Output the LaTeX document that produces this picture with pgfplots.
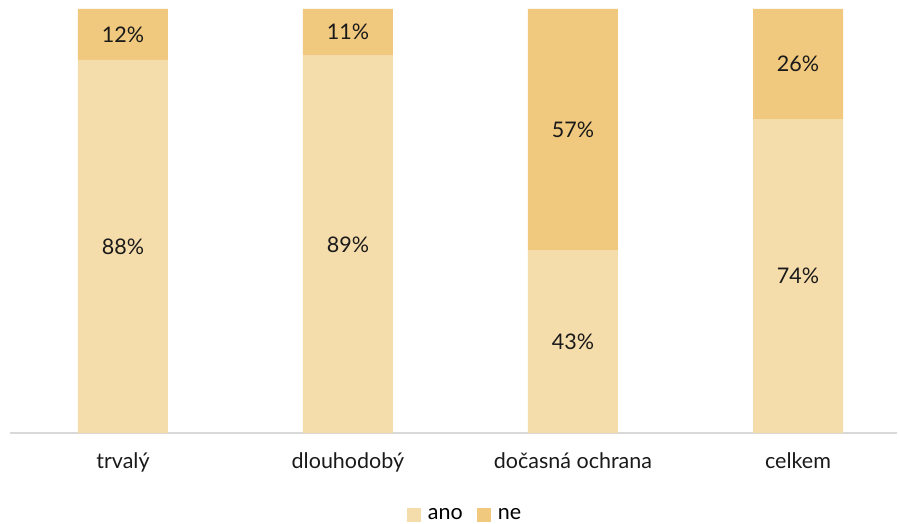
\documentclass[border=0pt]{standalone}
\usepackage{pgfplots}
\pgfplotsset{compat=1.18}
\usepackage{fontspec}
\setmainfont{Lato}
\definecolor{ano}{HTML}{F5DCAB}
\definecolor{ne}{HTML}{F0C97E}
\definecolor{osa}{HTML}{D9D9D9}
\definecolor{txt}{HTML}{1A1A1A}

\pgfplotsset{
  spolecne/.style={
    at={(10pt,91pt)}, anchor=south west,
    scale only axis, width=887pt, height=424pt,
    xmin=-0.502, xmax=3.44, ymin=0, ymax=100,
  },
}

\begin{document}
\begin{tikzpicture}
\useasboundingbox (0,0) rectangle (899pt,524pt);
\begin{axis}[
    spolecne,
    ybar stacked,
    bar width=90pt,
    axis x line*=bottom,
    axis y line=none,
    x axis line style={draw=osa, line width=1.5pt},
    xtick={0,1,2,3},
    xticklabels={trvalý, dlouhodobý, dočasná ochrana, celkem},
    major tick length=0pt,
    xticklabel style={font=\fontsize{21.5}{24}\selectfont, text=txt, yshift=-16pt},
    legend style={at={(0.513,-0.193)}, anchor=center, draw=none,
        legend columns=-1, font=\fontsize{21.5}{24}\selectfont,
        /tikz/every odd column/.append style={column sep=5pt},
        /tikz/every even column/.append style={column sep=12pt}},
    legend image code/.code={\fill[#1] (0pt,-7pt) rectangle (14pt,7pt);},
]
\addplot[fill=ano, draw=none] coordinates {(0,88) (1,89) (2,43) (3,74)};
\addlegendentry{ano}
\addplot[fill=ne, draw=none] coordinates {(0,12) (1,11) (2,57) (3,26)};
\addlegendentry{ne}
\end{axis}
\begin{axis}[
    spolecne,
    hide axis,
    nodes near coords,
    point meta=explicit symbolic,
    every node near coord/.append style={anchor=center, font=\fontsize{21.5}{24}\selectfont, text=txt},
]
\addplot[only marks, draw=none, mark=none] coordinates {
  (0,44) [88\%] (0,94) [12\%]
  (1,44.5) [89\%] (1,94.5) [11\%]
  (2,21.5) [43\%] (2,71.5) [57\%]
  (3,37) [74\%] (3,87) [26\%]
};
\end{axis}
\end{tikzpicture}
\end{document}
